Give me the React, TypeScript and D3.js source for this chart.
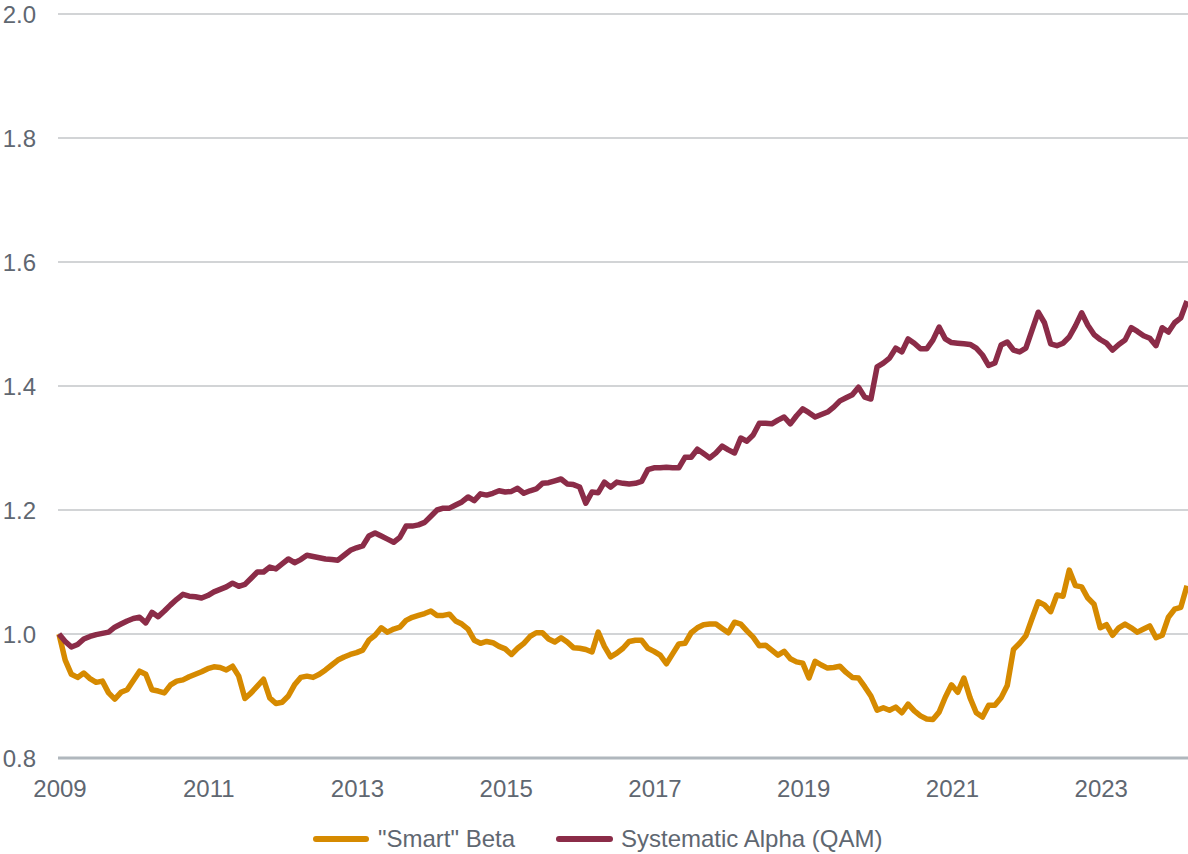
import React from "react";
import * as d3 from "d3";

const startYear = 2009;
const yearTicks = [2009, 2011, 2013, 2015, 2017, 2019, 2021, 2023];
const yTicks = [0.8, 1.0, 1.2, 1.4, 1.6, 1.8, 2.0];
const seriesNames = ['"Smart" Beta', "Systematic Alpha (QAM)"];
const seriesColors = ["#D68A00", "#8B2C48"];

const smartBeta = [
  1.000, 0.958, 0.935, 0.930, 0.937, 0.928, 0.922, 0.924, 0.905, 0.895,
  0.906, 0.910, 0.925, 0.940, 0.935, 0.910, 0.908, 0.905, 0.918, 0.924,
  0.926, 0.931, 0.935, 0.939, 0.944, 0.947, 0.946, 0.942, 0.948, 0.932,
  0.896, 0.905, 0.916, 0.927, 0.897, 0.888, 0.890, 0.900, 0.918, 0.930,
  0.932, 0.930, 0.935, 0.942, 0.950, 0.958, 0.963, 0.967, 0.970, 0.974,
  0.990, 0.998, 1.010, 1.003, 1.008, 1.011, 1.022, 1.027, 1.030, 1.033,
  1.037, 1.030, 1.030, 1.032, 1.021, 1.016, 1.008, 0.990, 0.985, 0.988,
  0.986, 0.980, 0.976, 0.967, 0.977, 0.985, 0.996, 1.002, 1.002, 0.992,
  0.987, 0.994, 0.987, 0.978, 0.977, 0.975, 0.971, 1.003, 0.980, 0.963,
  0.969, 0.977, 0.988, 0.990, 0.990, 0.977, 0.972, 0.966, 0.952, 0.968,
  0.984, 0.985, 1.002, 1.010, 1.015, 1.016, 1.016, 1.009, 1.002, 1.019,
  1.016, 1.005, 0.995, 0.981, 0.982, 0.974, 0.966, 0.972, 0.960, 0.955,
  0.953, 0.929, 0.956, 0.950, 0.945, 0.946, 0.948, 0.938, 0.930, 0.929,
  0.915, 0.900, 0.877, 0.881, 0.877, 0.882, 0.873, 0.887, 0.876, 0.868,
  0.863, 0.862, 0.874, 0.898, 0.918, 0.906, 0.929, 0.897, 0.873, 0.866,
  0.885, 0.885, 0.897, 0.917, 0.975, 0.985, 0.997, 1.025, 1.052, 1.047,
  1.036, 1.063, 1.061, 1.103, 1.078, 1.076, 1.058, 1.048, 1.010, 1.015,
  0.998, 1.010, 1.016, 1.010, 1.003, 1.008, 1.013, 0.994, 0.998, 1.027,
  1.040, 1.043, 1.078,
];

const systematicAlpha = [
  1.000, 0.988, 0.979, 0.983, 0.992, 0.996, 0.999, 1.001, 1.003, 1.011,
  1.016, 1.021, 1.025, 1.027, 1.018, 1.035, 1.028, 1.037, 1.047, 1.056,
  1.064, 1.061, 1.060, 1.058, 1.062, 1.068, 1.072, 1.076, 1.082, 1.077,
  1.080, 1.090, 1.100, 1.100, 1.108, 1.105, 1.113, 1.121, 1.115, 1.120,
  1.127, 1.125, 1.123, 1.121, 1.120, 1.119, 1.127, 1.135, 1.139, 1.142,
  1.158, 1.163, 1.158, 1.153, 1.148, 1.156, 1.174, 1.174, 1.176, 1.180,
  1.190, 1.200, 1.203, 1.203, 1.208, 1.213, 1.221, 1.215, 1.226, 1.224,
  1.227, 1.231, 1.229, 1.230, 1.235, 1.227, 1.231, 1.234, 1.243, 1.244,
  1.247, 1.250, 1.242, 1.241, 1.237, 1.211, 1.229, 1.228, 1.245, 1.237,
  1.245, 1.243, 1.242, 1.243, 1.246, 1.265, 1.268, 1.268, 1.269, 1.268,
  1.268, 1.285, 1.285, 1.298, 1.291, 1.284, 1.292, 1.303, 1.297, 1.292,
  1.316, 1.311, 1.321, 1.340, 1.340, 1.339, 1.345, 1.350, 1.339, 1.352,
  1.363, 1.357, 1.350, 1.354, 1.358, 1.366, 1.376, 1.381, 1.386, 1.398,
  1.382, 1.379, 1.431, 1.437, 1.445, 1.461, 1.455, 1.476, 1.469, 1.460,
  1.460, 1.474, 1.495, 1.476, 1.470, 1.469, 1.468, 1.467, 1.461, 1.450,
  1.433, 1.437, 1.466, 1.471, 1.458, 1.455, 1.461, 1.490, 1.519, 1.502,
  1.468, 1.465, 1.469, 1.479, 1.497, 1.518, 1.498, 1.483, 1.475, 1.469,
  1.458, 1.467, 1.474, 1.494, 1.488, 1.481, 1.477, 1.465, 1.494, 1.487,
  1.502, 1.510, 1.537,
];

const W = 1188;
const H = 854;
const FONT = "'Liberation Sans', Arial, Helvetica, sans-serif";
const TEXT = "#5f6771";
const FS = 24;

export default function App() {
  const n = smartBeta.length;
  const x = d3.scaleLinear().domain([0, n - 1]).range([59, 1187]);
  const y = d3.scaleLinear().domain([0.8, 2.0]).range([758, 14]);
  const line = d3
    .line<number>()
    .x((_, i) => x(i))
    .y((d) => y(d));

  const series = [smartBeta, systematicAlpha];

  return (
    <svg
      width={W}
      height={H}
      style={{ position: "absolute", left: 0, top: 0, background: "#fff" }}
      fontFamily={FONT}
    >
      {yTicks.map((t, i) =>
        i === 0 ? null : (
          <line key={t} x1={58} x2={W} y1={y(t)} y2={y(t)} stroke="#c3c6c9" strokeWidth={1.3} />
        )
      )}
      <line x1={58} x2={W} y1={y(0.8)} y2={y(0.8)} stroke="#b0b7bd" strokeWidth={3} />
      {yTicks.map((t) => (
        <text key={t} x={36} y={y(t) + 8.5} textAnchor="end" fontSize={FS} fill={TEXT}>
          {t.toFixed(1)}
        </text>
      ))}
      {yearTicks.map((yr) => (
        <text key={yr} x={x((yr - startYear) * 12) + 1} y={797} textAnchor="middle" fontSize={FS} fill={TEXT}>
          {yr}
        </text>
      ))}
      {series.map((s, i) => (
        <path
          key={i}
          d={line(s) || ""}
          fill="none"
          stroke={seriesColors[i]}
          strokeWidth={5.5}
          strokeLinejoin="round"
          strokeLinecap="butt"
        />
      ))}
      <g>
        <line x1={316} x2={366} y1={839} y2={839} stroke={seriesColors[0]} strokeWidth={6} strokeLinecap="round" />
        <text x={378} y={847} fontSize={FS} fill={TEXT}>{seriesNames[0]}</text>
        <line x1={559} x2={610} y1={839} y2={839} stroke={seriesColors[1]} strokeWidth={6} strokeLinecap="round" />
        <text x={621} y={847} fontSize={FS} fill={TEXT}>{seriesNames[1]}</text>
      </g>
    </svg>
  );
}
